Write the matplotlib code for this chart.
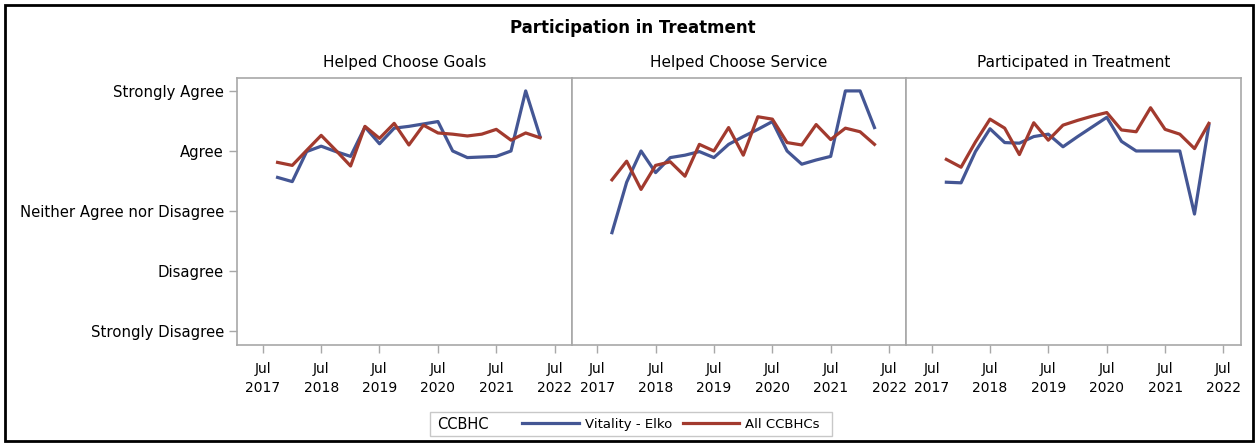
import matplotlib
matplotlib.use("Agg")
import matplotlib.pyplot as plt
from matplotlib.patches import Rectangle
from matplotlib.lines import Line2D
import pandas as pd

# quarterly survey dates, Oct 2017 - Apr 2022
dates = pd.date_range("2017-10-01", "2022-04-01", freq="QS-JAN")

panel_titles = ["Helped Choose Goals", "Helped Choose Service", "Participated in Treatment"]

goals_elko = [3.56, 3.49, 3.99, 4.08, 3.99, 3.91, 4.40, 4.12, 4.38, 4.41,
              4.45, 4.49, 4.00, 3.89, 3.90, 3.91, 4.00, 5.00, 4.24]
goals_all = [3.81, 3.76, 4.01, 4.26, 4.01, 3.75, 4.41, 4.21, 4.46, 4.10,
             4.43, 4.30, 4.28, 4.25, 4.28, 4.36, 4.18, 4.30, 4.22]

service_elko = [2.64, 3.48, 4.00, 3.64, 3.89, 3.93, 3.99, 3.89, 4.11, 4.24,
                4.36, 4.49, 4.00, 3.78, 3.85, 3.91, 5.00, 5.00, 4.39]
service_all = [3.52, 3.83, 3.36, 3.76, 3.82, 3.58, 4.11, 4.00, 4.39, 3.93,
               4.57, 4.53, 4.14, 4.10, 4.44, 4.19, 4.38, 4.32, 4.11]

treat_elko = [3.48, 3.47, 3.99, 4.37, 4.14, 4.13, 4.24, 4.28, 4.07, 4.24,
              4.40, 4.56, 4.16, 4.00, 4.00, 4.00, 4.00, 2.95, 4.43]
treat_all = [3.86, 3.73, 4.15, 4.53, 4.38, 3.94, 4.47, 4.18, 4.43, 4.51,
             4.58, 4.64, 4.35, 4.32, 4.72, 4.36, 4.28, 4.04, 4.46]

elko_series = [goals_elko, service_elko, treat_elko]
all_series = [goals_all, service_all, treat_all]

y_labels = ["Strongly Disagree", "Disagree", "Neither Agree nor Disagree", "Agree", "Strongly Agree"]
tick_years = [2017, 2018, 2019, 2020, 2021, 2022]

blue = "#445694"
red = "#A23A2E"
gray = "#A8A8A8"

plt.rcParams["font.family"] = ["DejaVu Sans"]

W, H = 1257, 444
fig = plt.figure(figsize=(W / 100, H / 100), dpi=100)

left = 237.3 / W
width = 334.4 / W
bottom = (H - 345) / H
height = (345 - 78.3) / H

tick_dates = [pd.Timestamp(f"{y}-07-01") for y in tick_years]
tick_text = [f"Jul\n{y}" for y in tick_years]

for i in range(3):
    ax = fig.add_axes([left + i * width, bottom, width, height])
    ax.plot(dates, elko_series[i], color=blue, lw=2.3)
    ax.plot(dates, all_series[i], color=red, lw=2.3)
    ax.set_xlim(pd.Timestamp("2017-01-22"), pd.Timestamp("2022-10-16"))
    ax.set_ylim(0.77, 5.21)
    ax.set_xticks(tick_dates)
    ax.set_xticklabels(tick_text, fontsize=10, linespacing=1.5)
    ax.set_yticks([1, 2, 3, 4, 5])
    if i == 0:
        ax.set_yticklabels(y_labels, fontsize=10.7)
    else:
        ax.tick_params(axis="y", left=False, labelleft=False)
    ax.tick_params(colors=gray, labelcolor="black", length=6, width=1)
    ax.tick_params(axis="x", pad=6)
    for sp in ax.spines.values():
        sp.set_color(gray)
        sp.set_linewidth(1.2)
    ax.set_title(panel_titles[i], fontsize=11, pad=8)

fig.text(633 / W, 1 - 28 / H, "Participation in Treatment", ha="center", va="center",
         fontsize=12, fontweight="bold")

# legend box
lx0, ly0, lx1, ly1 = 430, 411.7, 832, 436
fig.patches.append(Rectangle((lx0 / W, 1 - ly1 / H), (lx1 - lx0) / W, (ly1 - ly0) / H,
                             transform=fig.transFigure, fill=False, edgecolor="#C8C8C8", lw=1))
fig.text(437 / W, 1 - 424 / H, "CCBHC", ha="left", va="center", fontsize=10.5)
handles = [Line2D([], [], color=blue, lw=2.3), Line2D([], [], color=red, lw=2.3)]
fig.legend(handles, ["Vitality - Elko", "All CCBHCs"], loc="center", ncol=2, frameon=False,
           bbox_to_anchor=(671 / W, 1 - 424 / H), fontsize=9.5, handlelength=4.3,
           handletextpad=0.45, columnspacing=0.8)

# outer border
fig.patches.append(Rectangle((5 / W, 3 / H), (1253 - 5) / W, (441 - 5) / H,
                             transform=fig.transFigure, fill=False, edgecolor="black", lw=2))

fig.savefig("out.png", dpi=100)
